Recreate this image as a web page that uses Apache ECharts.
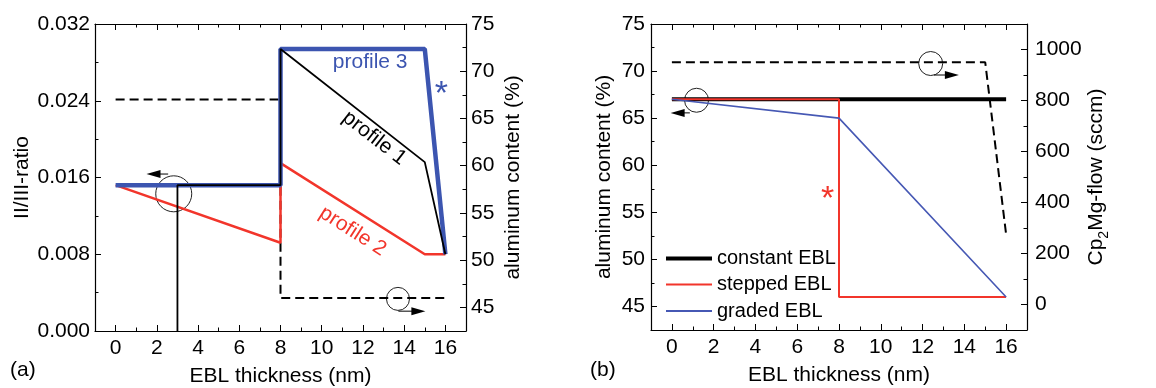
<!DOCTYPE html>
<html>
<head>
<meta charset="utf-8">
<script src="https://cdn.jsdelivr.net/npm/echarts@6/dist/echarts.min.js"></script>
<style>
  html, body { margin: 0; padding: 0; background: #fff; }
  #chart { width: 1156px; height: 388px; }
</style>
</head>
<body>
<div id="chart"></div>
<script>
// panel (a): EBL thickness (nm) vs II/III-ratio (left) and Al content (right)
const alDashA = [[0, 67], [8, 67], [8, 46], [16, 46]];
const profile1 = [[3, 0], [3, 0.0152], [8, 0.0152], [8, 0.0294], [15, 0.0176], [16, 0.008]];
const profile2 = [[0, 0.0152], [8, 0.0092], [8, 0.0175], [15, 0.008], [16, 0.008]];
const profile3 = [[0, 0.0152], [8, 0.0152], [8, 0.0294], [15, 0.0294], [16, 0.008]];

// panel (b): Al content (left) and Cp2Mg flow (right)
const constantB = [[0, 67], [16, 67]];
const steppedB = [[0, 67], [8, 67], [8, 46], [16, 46]];
const gradedB = [[0, 67], [8, 65], [16, 46]];
const mgFlowB = [[0, 950], [15, 950], [16, 275]];

// tick values
const xTicks = [0, 2, 4, 6, 8, 10, 12, 14, 16];
const xMinor = [1, 3, 5, 7, 9, 11, 13, 15];
const alTicks = [45, 50, 55, 60, 65, 70, 75];
const alMinor = [47.5, 52.5, 57.5, 62.5, 67.5, 72.5];
const mgTicks = [0, 200, 400, 600, 800, 1000];
const mgMinor = [100, 300, 500, 700, 900];

const FONT = 'Liberation Sans, Arial, sans-serif';
const BLACK = '#000';
const RED = '#f2352b';
const BLUE = '#3c55b0';
const BLUE_B = '#4658b4';

const chart = echarts.init(document.getElementById('chart'));

const axisLine = { show: true, onZero: false, lineStyle: { color: BLACK, width: 1.2 } };

// major / minor axis helpers
function xMajor(grid, pos, withLabels) {
  return {
    type: 'value', gridIndex: grid, position: pos, min: -1, max: 17,
    axisLine: axisLine,
    axisTick: { show: true, inside: true, length: 6, customValues: xTicks, lineStyle: { color: BLACK } },
    axisLabel: { show: withLabels, customValues: xTicks, color: BLACK, fontSize: 21, fontFamily: FONT, margin: 7 },
    splitLine: { show: false },
    name: withLabels ? 'EBL thickness (nm)' : '',
    nameLocation: 'middle', nameGap: 35,
    nameTextStyle: { color: BLACK, fontSize: 21, fontFamily: FONT }
  };
}
function xMinorAxis(grid, pos) {
  return {
    type: 'value', gridIndex: grid, position: pos, min: -1, max: 17,
    axisLine: { show: false, onZero: false },
    axisTick: { show: true, inside: true, length: 3.5, customValues: xMinor, lineStyle: { color: BLACK } },
    axisLabel: { show: false },
    splitLine: { show: false }
  };
}
function yCustom(grid, pos, min, max, ticks, name, gap, margin) {
  return {
    type: 'value', gridIndex: grid, position: pos, min: min, max: max,
    axisLine: axisLine,
    axisTick: { show: true, inside: true, length: 6, customValues: ticks, lineStyle: { color: BLACK } },
    axisLabel: { show: true, customValues: ticks, color: BLACK, fontSize: 21, fontFamily: FONT, margin: margin,
      formatter: v => String(v) },
    splitLine: { show: false },
    name: name, nameLocation: 'middle', nameGap: gap,
    nameTextStyle: {
      color: BLACK, fontSize: 21, fontFamily: FONT,
      rich: {
        n: { fontSize: 21, fontFamily: FONT, color: BLACK, lineHeight: 30 },
        s: { fontSize: 14, fontFamily: FONT, color: BLACK, verticalAlign: 'bottom', lineHeight: 14 }
      }
    }
  };
}
function yMinorAxis(grid, pos, min, max, ticks) {
  return {
    type: 'value', gridIndex: grid, position: pos, min: min, max: max,
    axisLine: { show: false, onZero: false },
    axisTick: { show: true, inside: true, length: 3.5, customValues: ticks, lineStyle: { color: BLACK } },
    axisLabel: { show: false },
    splitLine: { show: false }
  };
}
// one legend per row so each swatch can have its own line thickness
function legendRow(name, top, h) {
  return {
    left: 661, top: top, icon: 'rect', itemWidth: 46, itemHeight: h,
    textStyle: { color: BLACK, fontSize: 20, fontFamily: FONT },
    data: [name]
  };
}

const option = {
  animation: false,
  backgroundColor: '#fff',
  textStyle: { fontFamily: FONT },
  grid: [
    { left: 95, top: 24, width: 371, height: 307, outerBoundsMode: 'none' },
    { left: 651, top: 24, width: 376, height: 306, outerBoundsMode: 'none' }
  ],
  xAxis: [
    xMajor(0, 'bottom', true), xMinorAxis(0, 'bottom'),
    xMajor(0, 'top', false), xMinorAxis(0, 'top'),
    xMajor(1, 'bottom', true), xMinorAxis(1, 'bottom'),
    xMajor(1, 'top', false), xMinorAxis(1, 'top')
  ],
  yAxis: [
    {
      type: 'value', gridIndex: 0, position: 'left', min: 0, max: 0.032, interval: 0.008,
      axisLine: axisLine,
      axisTick: { show: true, inside: true, length: 6, lineStyle: { color: BLACK } },
      minorTick: { show: true, splitNumber: 2, length: 3.5, lineStyle: { color: BLACK } },
      axisLabel: { color: BLACK, fontSize: 21, fontFamily: FONT, margin: 5, formatter: v => v.toFixed(3) },
      splitLine: { show: false }, minorSplitLine: { show: false },
      name: 'II/III-ratio', nameLocation: 'middle', nameGap: 62,
      nameTextStyle: { color: BLACK, fontSize: 21, fontFamily: FONT }
    },
    yCustom(0, 'right', 42.5, 75, alTicks, 'aluminum content (%)', 37, 5),
    yMinorAxis(0, 'right', 42.5, 75, alMinor),
    yCustom(1, 'left', 42.5, 75, alTicks, 'aluminum content (%)', 36, 6),
    yMinorAxis(1, 'left', 42.5, 75, alMinor),
    yCustom(1, 'right', -100, 1100, mgTicks, '{n|Cp}{s|2}{n|Mg-flow (sccm)}', 39, 8),
    yMinorAxis(1, 'right', -100, 1100, mgMinor)
  ],
  legend: [
    legendRow('constant EBL', 243.5, 4),
    legendRow('stepped EBL', 269.5, 2),
    legendRow('graded EBL', 296, 2)
  ],
  series: [
    { name: 'al-a', type: 'line', xAxisIndex: 0, yAxisIndex: 1, data: alDashA, symbol: 'none',
      lineStyle: { color: BLACK, width: 2, type: [9, 5] } },
    { name: 'profile 2', type: 'line', xAxisIndex: 0, yAxisIndex: 0, data: profile2, symbol: 'none',
      lineStyle: { color: RED, width: 2.5 } },
    { name: 'profile 3', type: 'line', xAxisIndex: 0, yAxisIndex: 0, data: profile3, symbol: 'none',
      lineStyle: { color: BLUE, width: 4.5 } },
    { name: 'profile 1', type: 'line', xAxisIndex: 0, yAxisIndex: 0, data: profile1, symbol: 'none',
      lineStyle: { color: BLACK, width: 1.8 } },

    { name: 'constant EBL', type: 'line', xAxisIndex: 4, yAxisIndex: 3, data: constantB, symbol: 'none',
      color: BLACK, lineStyle: { color: BLACK, width: 4 } },
    { name: 'stepped EBL', type: 'line', xAxisIndex: 4, yAxisIndex: 3, data: steppedB, symbol: 'none',
      color: RED, lineStyle: { color: RED, width: 2 } },
    { name: 'graded EBL', type: 'line', xAxisIndex: 4, yAxisIndex: 3, data: gradedB, symbol: 'none',
      color: BLUE_B, lineStyle: { color: BLUE_B, width: 1.6 } },
    { name: 'mg-b', type: 'line', xAxisIndex: 4, yAxisIndex: 5, data: mgFlowB, symbol: 'none',
      lineStyle: { color: BLACK, width: 2, type: [9, 5] } }
  ]
};
chart.setOption(option);

// annotations placed in data coordinates
const px = (si, p) => chart.convertToPixel({ seriesIndex: si }, p);

function circle(c, r) {
  return { type: 'circle', shape: { cx: c[0], cy: c[1], r: r }, style: { fill: 'none', stroke: '#222', lineWidth: 1 } };
}
function arrow(a, b) {
  const dir = Math.sign(b[0] - a[0]);
  const hx = b[0], hy = b[1];
  return [
    { type: 'line', shape: { x1: a[0], y1: a[1], x2: hx - dir * 10, y2: hy }, style: { stroke: BLACK, lineWidth: 1 } },
    { type: 'polygon', shape: { points: [[hx, hy], [hx - dir * 14, hy - 4], [hx - dir * 14, hy + 4]] }, style: { fill: BLACK } }
  ];
}
function label(p, text, color, size, rot) {
  return {
    type: 'text', x: p[0], y: p[1], rotation: (rot || 0) * Math.PI / 180,
    style: { text: text, fill: color, font: size + 'px ' + FONT, align: 'center', verticalAlign: 'middle' }
  };
}

const g = [];
// panel (a)
g.push(circle(px(1, [2.82, 0.0143]), 18));
g.push(...arrow(px(1, [2.55, 0.01636]), px(1, [1.5, 0.01636])));
g.push(circle(px(0, [13.7, 45.9]), 11.5));
g.push(...arrow(px(0, [13.72, 44.6]), px(0, [15.03, 44.6])));
g.push(label(px(1, [12.35, 0.028]), 'profile 3', BLUE, 21, 0));
g.push(label(px(1, [12.55, 0.0201]), 'profile 1', BLACK, 21, -38));
g.push(label(px(1, [11.5, 0.0104]), 'profile 2', RED, 21, -32.6));
g.push(label(px(1, [15.8, 0.0246]), '*', BLUE, 34, 0));
// panel (b)
g.push(circle(px(4, [1.18, 66.9]), 12));
g.push(...arrow(px(4, [0.86, 65.56]), px(4, [-0.06, 65.56])));
g.push(circle(px(7, [12.39, 945]), 12));
g.push(...arrow(px(7, [12.55, 900]), px(7, [13.74, 900])));
g.push(label(px(4, [7.46, 56.3]), '*', RED, 34, 0));
// panel letters
g.push({ type: 'text', x: 10, y: 370, style: { text: '(a)', fill: BLACK, font: '21px ' + FONT, verticalAlign: 'middle' } });
g.push({ type: 'text', x: 590, y: 370, style: { text: '(b)', fill: BLACK, font: '21px ' + FONT, verticalAlign: 'middle' } });

chart.setOption({ graphic: g });
</script>
</body>
</html>
